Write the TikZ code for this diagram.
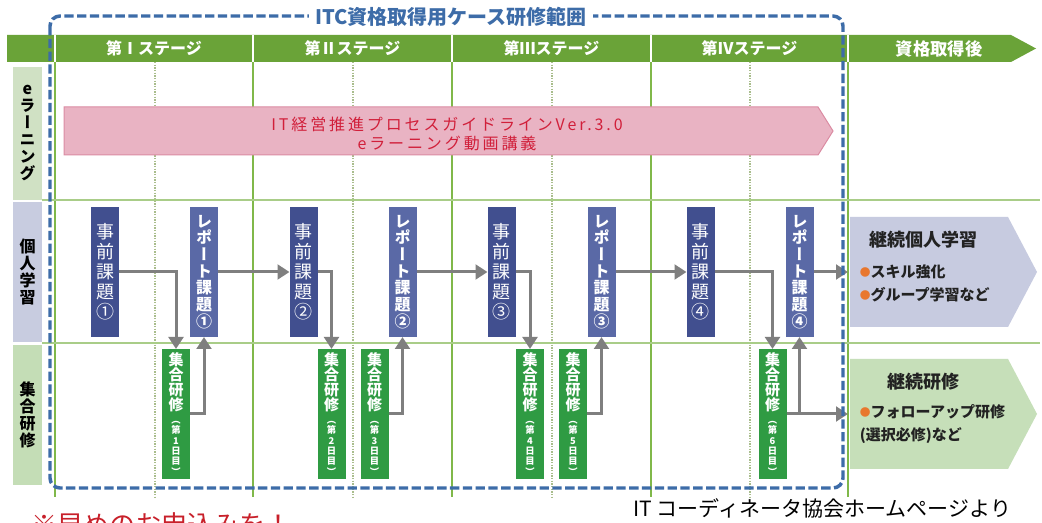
\documentclass[tikz,border=0pt]{standalone}
\usepackage{fontspec}
\setmainfont{Noto Sans CJK JP}
\newfontfamily\tate[RawFeature=+vert]{Noto Sans CJK JP}
\newfontfamily\wide[LetterSpace=18]{Noto Sans CJK JP}
\usetikzlibrary{arrows.meta}

\definecolor{headgreen}{HTML}{6AA338}
\definecolor{gridgreen}{HTML}{80B84A}
\definecolor{rulegreen}{HTML}{A9CD88}
\definecolor{dotgreen}{HTML}{A9BD8C}
\definecolor{frameblue}{HTML}{3D6CA8}
\definecolor{pinkfill}{HTML}{E9B3C3}
\definecolor{pinkline}{HTML}{DB8CA3}
\definecolor{pinktext}{HTML}{D11F3A}
\definecolor{preblue}{HTML}{414F8F}
\definecolor{repblue}{HTML}{5A69A6}
\definecolor{daygreen}{HTML}{2F9B43}
\definecolor{arrowgray}{HTML}{7F7F7F}
\definecolor{elabel}{HTML}{D0E1C4}
\definecolor{lavlabel}{HTML}{C8CCE0}
\definecolor{greenlabel}{HTML}{C4DDB6}
\definecolor{lavbox}{HTML}{C7CBE0}
\definecolor{greenbox}{HTML}{C6DFB9}
\definecolor{dotorange}{HTML}{E8772E}
\definecolor{notered}{HTML}{C8202A}
\definecolor{darktext}{HTML}{222222}

\newcommand{\dotmark}{{\color{dotorange}\fontsize{8}{8}\selectfont\raisebox{1.2pt}{●}}}
\newcommand{\tatesmall}[1]{{\fontsize{7}{7}\selectfont #1}}
\newcommand{\gatherday}[1]{集\\合\\研\\修\\[-1.5pt]\tatesmall{（}\\[-3.5pt]\tatesmall{第}\\[-3.5pt]\tatesmall{#1}\\[-3.5pt]\tatesmall{日}\\[-3.5pt]\tatesmall{目}\\[-3.5pt]\tatesmall{）}}

\tikzset{every picture/.style={line width=0.75pt},
	labelbox/.style={minimum width=21.75pt, inner sep=0pt, outer sep=0pt, align=center, text=black, font=\tate\bfseries\fontsize{12}{12.75}\selectfont},
	prebox/.style={fill=preblue, text=white, minimum width=21pt, minimum height=97.5pt, inner sep=0pt, outer sep=0pt, align=center, font=\tate\fontsize{13.5}{15}\selectfont},
	repbox/.style={prebox, fill=repblue, font=\tate\bfseries\fontsize{12}{12.5}\selectfont},
	daybox/.style={prebox, fill=daygreen, font=\tate\bfseries\fontsize{11.25}{11.25}\selectfont},
	headtext/.style={text=white, inner sep=0pt, font=\bfseries\fontsize{12}{12}\selectfont},
	gridline/.style={draw=gridgreen, line width=1.5pt},
	dotline/.style={draw=dotgreen, line width=1pt, dash pattern=on 1pt off 1pt},
	rowline/.style={draw=rulegreen, line width=1.1pt},
	flow/.style={draw=arrowgray, line width=2.25pt, -{Triangle[length=9pt,width=11pt]}},
	frame/.style={draw=frameblue, line width=2.6pt, dash pattern=on 7pt off 2.6pt, rounded corners=7.5pt},
}

\begin{document}
\begin{tikzpicture}[x=0.75pt,y=0.75pt,yscale=-1,xscale=1]
	\useasboundingbox (0,0) rectangle (1042,523);
	\fill[white] (0,0) rectangle (1042,523);
	
	%Shape: Arrow (header)
	\fill[headgreen] (7,35) -- (1011,35) -- (1036,48.5) -- (1011,62) -- (7,62) -- cycle ;
	\draw[white, line width=1.5pt] (55,35) -- (55,62) (253,35) -- (253,62) (452,35) -- (452,62) (651,35) -- (651,62) (848,35) -- (848,62) ;
	
	%Shape: Lines (grid)
	\draw[gridline] (55,62) -- (55,497) (253,62) -- (253,497) (452,62) -- (452,497) (651,62) -- (651,497) (848,62) -- (848,497) ;
	\draw[dotline] (155,62) -- (155,497) (353,62) -- (353,497) (552,62) -- (552,497) (750,62) -- (750,497) ;
	\draw[rowline] (42,200) -- (1040,200) (42,343) -- (1040,343) ;
	
	% Text Node
	\node[headtext] (stage1) at (154,48.5) {第Ⅰステージ};
	% Text Node
	\node[headtext] (stage2) at (352.5,48.5) {第Ⅱステージ};
	% Text Node
	\node[headtext] (stage3) at (551.5,48.5) {第Ⅲステージ};
	% Text Node
	\node[headtext] (stage4) at (749.5,48.5) {第Ⅳステージ};
	% Text Node
	\node[headtext, font=\bfseries\fontsize{13}{13}\selectfont] (after) at (939,48.5) {資格取得後};
	
	%Shape: Rectangle (row labels)
	\node[labelbox, fill=elabel, minimum height=99.75pt] (rowE) at (27.5,133.5) {e\\ラ\\ー\\ニ\\ン\\グ};
	\node[labelbox, fill=lavlabel, minimum height=105pt] (rowSelf) at (27.5,272) {個\\人\\学\\習};
	\node[labelbox, fill=greenlabel, minimum height=105pt] (rowGroup) at (27.5,415) {集\\合\\研\\修};
	
	%Shape: Arrow (e-learning)
	\draw[fill=pinkfill, draw=pinkline] (64,107) -- (818,107) -- (833,131) -- (818,155) -- (64,155) -- cycle ;
	% Text Node
	\node[text=pinktext, align=center, font=\wide\fontsize{12}{14.25}\selectfont] (elearn) at (447,133.5) {IT経営推進プロセスガイドラインVer.3.0\\eラーニング動画講義};
	
	%Shape: Arrow (after qualification)
	\fill[lavbox] (850,217) -- (1008,217) -- (1037,272) -- (1008,327) -- (850,327) -- cycle ;
	\fill[greenbox] (850,359) -- (1008,359) -- (1037,414) -- (1008,469) -- (850,469) -- cycle ;
	\coordinate (selfIn) at (848,272);
	\coordinate (groupIn) at (848,414);
	% Text Node
	\node[text=darktext, font=\bfseries\fontsize{13.5}{16}\selectfont] (contSelf) at (923,240) {継続個人学習};
	\node[anchor=west, align=left, text=darktext, font=\bfseries\fontsize{11.25}{17.25}\selectfont] (contSelfList) at (855,283.5) {\dotmark スキル強化\\\dotmark グループ学習など};
	% Text Node
	\node[text=darktext, font=\bfseries\fontsize{13.5}{16}\selectfont] (contGroup) at (923,382) {継続研修};
	\node[anchor=west, align=left, text=darktext, font=\bfseries\fontsize{11.25}{17.25}\selectfont] (contGroupList) at (855,424.5) {\dotmark フォローアップ研修\\(選択必修)など};
	
	%Rounded Rect (tasks)
	\node[prebox] (pre1) at (105,272) {事\\前\\課\\題\\①};
	\node[repbox] (rep1) at (204,272) {レ\\ポ\\ー\\ト\\課\\題\\①};
	\node[prebox] (pre2) at (303.5,272) {事\\前\\課\\題\\②};
	\node[repbox] (rep2) at (402.5,272) {レ\\ポ\\ー\\ト\\課\\題\\②};
	\node[prebox] (pre3) at (501.5,272) {事\\前\\課\\題\\③};
	\node[repbox] (rep3) at (601.5,272) {レ\\ポ\\ー\\ト\\課\\題\\③};
	\node[prebox] (pre4) at (700.5,272) {事\\前\\課\\題\\④};
	\node[repbox] (rep4) at (799.5,272) {レ\\ポ\\ー\\ト\\課\\題\\④};
	
	%Rounded Rect (training days)
	\node[daybox] (day1) at (176,414) {\gatherday{1}};
	\node[daybox] (day2) at (331.5,414) {\gatherday{2}};
	\node[daybox] (day3) at (374.5,414) {\gatherday{3}};
	\node[daybox] (day4) at (530,414) {\gatherday{4}};
	\node[daybox] (day5) at (573,414) {\gatherday{5}};
	\node[daybox] (day6) at (772.5,414) {\gatherday{6}};
	
	% Connection
	\draw[flow] (pre1.east) -| (day1.north);
	\draw[flow] (day1.east) -| (rep1.south);
	\draw[flow] (rep1.east) -- (pre2.west);
	\draw[flow] (pre2.east) -| (day2.north);
	\draw[flow] (day3.east) -| (rep2.south);
	\draw[flow] (rep2.east) -- (pre3.west);
	\draw[flow] (pre3.east) -| (day4.north);
	\draw[flow] (day5.east) -| (rep3.south);
	\draw[flow] (rep3.east) -- (pre4.west);
	\draw[flow] (pre4.east) -| (day6.north);
	\draw[flow] (day6.east) -| (rep4.south);
	\draw[flow] (rep4.east) -- (selfIn);
	\draw[flow] (day6.east) -- (groupIn);
	
	%Rounded Rect (course scope)
	\draw[frame] (50,16) rectangle (843,488) ;
	% Text Node
	\node[fill=white, text=frameblue, inner xsep=5pt, inner ysep=1pt, font=\bfseries\fontsize{15}{16}\selectfont] (scope) at (451,17) {ITC資格取得用ケース研修範囲};
	
	% Text Node
	\node[anchor=west, text=notered, inner sep=0pt, font=\fontsize{19.5}{20}\selectfont] (note) at (31,525) {※早めのお申込みを！};
	% Text Node
	\node[anchor=west, text=black, inner sep=0pt, font=\fontsize{15.75}{17}\selectfont] (source) at (633,508) {IT コーディネータ協会ホームページより};
	
\end{tikzpicture}
\end{document}
